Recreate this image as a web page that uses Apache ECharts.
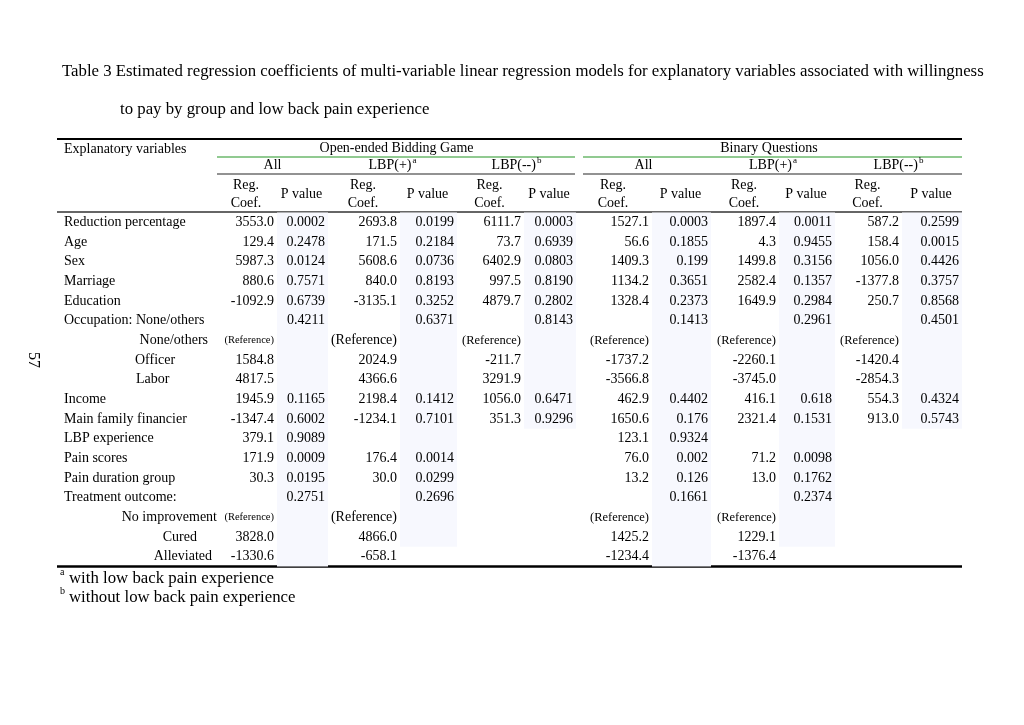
<!DOCTYPE html>
<html><head><meta charset="utf-8">
<script src="https://cdn.jsdelivr.net/npm/echarts@6/dist/echarts.min.js"></script>
<style>html,body{margin:0;padding:0;background:#fff}#main{width:1024px;height:725px}</style>
</head><body><div id="main"></div>
<script>
// ---------------- DATA ----------------
const titleLine1 = 'Table 3 Estimated regression coefficients of multi-variable linear regression models for explanatory variables associated with willingness';
const titleLine2 = 'to pay by group and low back pain experience';
const pageNumber = '57';
const groupHeaders = ['Open-ended Bidding Game', 'Binary Questions'];
const subHeaders = [['All', ''], ['LBP(+)', 'a'], ['LBP(--)', 'b'], ['All', ''], ['LBP(+)', 'a'], ['LBP(--)', 'b']];
const footnotes = [['a', 'with low back pain experience'], ['b', 'without low back pain experience']];

const rowLabels = ['Reduction percentage', 'Age', 'Sex', 'Marriage', 'Education', 'Occupation: None/others',
  'None/others', 'Officer', 'Labor', 'Income', 'Main family financier', 'LBP experience', 'Pain scores',
  'Pain duration group', 'Treatment outcome:', 'No improvement', 'Cured', 'Alleviated'];

const R = 'ref';
const openAllCoef = [3553.0, 129.4, 5987.3, 880.6, -1092.9, null, R, 1584.8, 4817.5, 1945.9, -1347.4, 379.1, 171.9, 30.3, null, R, 3828.0, -1330.6];
const openAllP = ['0.0002', '0.2478', '0.0124', '0.7571', '0.6739', '0.4211', null, null, null, '0.1165', '0.6002', '0.9089', '0.0009', '0.0195', '0.2751', null, null, null];
const openPosCoef = [2693.8, 171.5, 5608.6, 840.0, -3135.1, null, R, 2024.9, 4366.6, 2198.4, -1234.1, null, 176.4, 30.0, null, R, 4866.0, -658.1];
const openPosP = ['0.0199', '0.2184', '0.0736', '0.8193', '0.3252', '0.6371', null, null, null, '0.1412', '0.7101', null, '0.0014', '0.0299', '0.2696', null, null, null];
const openNegCoef = [6111.7, 73.7, 6402.9, 997.5, 4879.7, null, R, -211.7, 3291.9, 1056.0, 351.3, null, null, null, null, null, null, null];
const openNegP = ['0.0003', '0.6939', '0.0803', '0.8190', '0.2802', '0.8143', null, null, null, '0.6471', '0.9296', null, null, null, null, null, null, null];
const binAllCoef = [1527.1, 56.6, 1409.3, 1134.2, 1328.4, null, R, -1737.2, -3566.8, 462.9, 1650.6, 123.1, 76.0, 13.2, null, R, 1425.2, -1234.4];
const binAllP = ['0.0003', '0.1855', '0.199', '0.3651', '0.2373', '0.1413', null, null, null, '0.4402', '0.176', '0.9324', '0.002', '0.126', '0.1661', null, null, null];
const binPosCoef = [1897.4, 4.3, 1499.8, 2582.4, 1649.9, null, R, -2260.1, -3745.0, 416.1, 2321.4, null, 71.2, 13.0, null, R, 1229.1, -1376.4];
const binPosP = ['0.0011', '0.9455', '0.3156', '0.1357', '0.2984', '0.2961', null, null, null, '0.618', '0.1531', null, '0.0098', '0.1762', '0.2374', null, null, null];
const binNegCoef = [587.2, 158.4, 1056.0, -1377.8, 250.7, null, R, -1420.4, -2854.3, 554.3, 913.0, null, null, null, null, null, null, null];
const binNegP = ['0.2599', '0.0015', '0.4426', '0.3757', '0.8568', '0.4501', null, null, null, '0.4324', '0.5743', null, null, null, null, null, null, null];

const columns = [openAllCoef, openAllP, openPosCoef, openPosP, openNegCoef, openNegP,
  binAllCoef, binAllP, binPosCoef, binPosP, binNegCoef, binNegP];

// ---------------- LAYOUT ----------------
const FONT = '"Liberation Serif", "Times New Roman", serif';
const colEdges = [217, 277, 328, 400, 457, 524, 576, 652, 711, 779, 835, 902, 962];
const tableLeft = 57, tableRight = 962;
const refSizes = [10.5, 14, 14, 12.5, 12.5, 12.5, 12.5, 12.5, 12.5, 12.5, 12.5, 12.5];
const shadeEnd = { 1: 17, 3: 16, 5: 10, 7: 17, 9: 16, 11: 10 };
const labelPos = { 6: [208, 'right'], 7: [135, 'left'], 8: [136, 'left'], 15: [217, 'right'], 16: [197, 'right'], 17: [212, 'right'] };
const gridTop = 212.5, gridBottomY = 566.5;

const mctx = document.createElement('canvas').getContext('2d');
function tw(t, size) { mctx.font = size + 'px ' + FONT; return mctx.measureText(t).width; }

function txt(x, y, t, size, align, color, extra) {
  return Object.assign({
    type: 'text', x: x, y: y, silent: true,
    style: { text: t, font: size + 'px ' + FONT, fill: color || '#000',
      align: align || 'left', textAlign: align || 'left', verticalAlign: 'middle', textVerticalAlign: 'middle' }
  }, extra || {});
}
function hline(x1, x2, y, w, color) {
  return { type: 'line', silent: true, shape: { x1: x1, y1: y, x2: x2, y2: y }, style: { stroke: color, lineWidth: w } };
}

// ---------------- BUILD DATA ITEMS ----------------
const cellData = [];
columns.forEach(function (col, c) {
  col.forEach(function (v, r) {
    if (v === null || v === undefined) return;
    let t, size = 14;
    if (v === R) { t = '(Reference)'; size = refSizes[c]; }
    else if (typeof v === 'number') t = v.toFixed(1);
    else t = v;
    cellData.push([colEdges[c + 1] - 3, r, t, size]);
  });
});
const shadeData = Object.keys(shadeEnd).map(function (c) { return [colEdges[+c], shadeEnd[c], colEdges[+c + 1]]; });
const labelData = rowLabels.map(function (l, r) {
  const p = labelPos[r] || [64, 'left'];
  return [p[0], r, l, p[1]];
});

// ---------------- GRAPHIC (title, headers, rules) ----------------
const g = [];
g.push(txt(62, 72, titleLine1, 16.8));
g.push(txt(120, 110, titleLine2, 16.8));
g.push(txt(33, 360, pageNumber, 16, 'center', '#000', { rotation: -Math.PI / 2 }));

g.push(hline(tableLeft, tableRight, 139, 2, '#000'));
g.push(txt(64, 149, 'Explanatory variables', 14));
const groupSpans = [[colEdges[0], colEdges[6]], [colEdges[6], colEdges[12]]];
groupHeaders.forEach(function (h, i) {
  const s = groupSpans[i];
  g.push(txt((s[0] + s[1]) / 2, 148, h, 14, 'center'));
  const a = i === 0 ? s[0] : s[0] + 7, b = i === 0 ? s[1] - 1 : s[1];
  g.push(hline(a, b, 157, 1.5, '#6cb86c'));
  g.push(hline(a, b, 174, 1.5, '#6e6e6e'));
});
subHeaders.forEach(function (h, i) {
  const cx = (colEdges[2 * i] + colEdges[2 * i + 2]) / 2;
  const w = tw(h[0], 14), ws = h[1] ? tw(h[1], 9) + 1 : 0;
  const x0 = cx - (w + ws) / 2;
  g.push(txt(x0, 165, h[0], 14, 'left'));
  if (h[1]) g.push(txt(x0 + w + 1, 161, h[1], 9, 'left'));
  const cc = (colEdges[2 * i] + colEdges[2 * i + 1]) / 2 - 1;
  const pc = (colEdges[2 * i + 1] + colEdges[2 * i + 2]) / 2 - 1;
  g.push(txt(cc, 185, 'Reg.', 14, 'center'));
  g.push(txt(cc, 203, 'Coef.', 14, 'center'));
  g.push(txt(pc, 194, 'P value', 14, 'center'));
});
g.push(hline(tableLeft, tableRight, 212, 1.6, '#333'));
g.push(hline(tableLeft, tableRight, 566.5, 2.5, '#000'));
footnotes.forEach(function (f, i) {
  const y = 579 + i * 19;
  g.push(txt(60, y - 7, f[0], 10, 'left'));
  g.push(txt(69, y, f[1], 16.8, 'left'));
});

// ---------------- CHART ----------------
const chart = echarts.init(document.getElementById('main'), null, { renderer: 'canvas' });
chart.setOption({
  backgroundColor: '#fff',
  animation: false,
  grid: { left: 0, right: 0, top: gridTop, bottom: 725 - gridBottomY, show: false },
  xAxis: { type: 'value', min: 0, max: 1024, show: false },
  yAxis: { type: 'category', data: rowLabels, inverse: true, show: false },
  graphic: { elements: g },
  series: [
    {
      type: 'custom', name: 'shade', data: shadeData, silent: true, z: 1,
      encode: { x: 0, y: 1 },
      renderItem: function (params, api) {
        const x1 = api.value(0), r = api.value(1), x2 = api.value(2);
        const pEnd = api.coord([x2, r]);
        const pStart = api.coord([x1, 0]);
        const band = api.size([0, 1])[1];
        return { type: 'rect', shape: { x: pStart[0], y: pStart[1] - band / 2, width: pEnd[0] - pStart[0], height: pEnd[1] + band / 2 - (pStart[1] - band / 2) },
          style: { fill: '#f7f8fe' } };
      }
    },
    {
      type: 'custom', name: 'labels', data: labelData, silent: true, z: 3,
      encode: { x: 0, y: 1 },
      renderItem: function (params, api) {
        const d = labelData[params.dataIndex];
        const p = api.coord([d[0], d[1]]);
        return txt(p[0], p[1], d[2], 14, d[3]);
      }
    },
    {
      type: 'custom', name: 'cells', data: cellData, silent: true, z: 3,
      encode: { x: 0, y: 1 },
      renderItem: function (params, api) {
        const d = cellData[params.dataIndex];
        const p = api.coord([d[0], d[1]]);
        return txt(p[0], p[1], d[2], d[3], 'right');
      }
    }
  ]
});
</script></body></html>
